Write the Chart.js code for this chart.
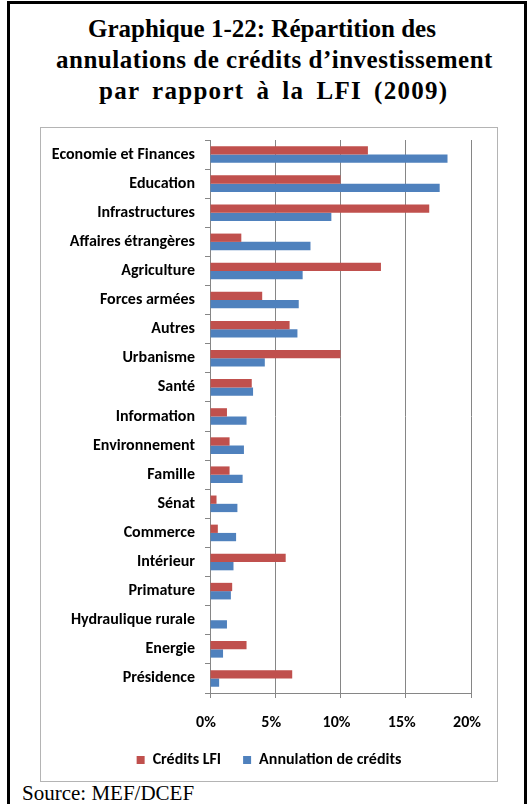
<!DOCTYPE html>
<html lang="fr">
<head>
<meta charset="utf-8">
<title>Graphique 1-22</title>
<script src="https://cdn.jsdelivr.net/npm/chart.js@4.4.1/dist/chart.umd.min.js"></script>
<style>
  html, body { margin: 0; padding: 0; background: #fff; }
  body { width: 527px; height: 804px; position: relative; overflow: hidden; }
  .frame {
    position: absolute; left: 7px; top: 1px; width: 520px; height: 830px;
    box-sizing: border-box; border: 3px solid #000; border-bottom: none;
  }
  .title-line {
    position: absolute; white-space: nowrap;
    font-family: "Liberation Serif", "Times New Roman", serif; font-weight: bold;
    font-size: 25px; line-height: 31px; color: #000;
  }
  .l1 { left: 88px; top: 13px; }
  .l2 { left: 56px; top: 44px; letter-spacing: 0.5px; }
  .l3 { left: 99px; top: 75px; letter-spacing: 1.3px; word-spacing: 4.5px; }
  .chart-box {
    position: absolute; left: 40px; top: 127px; width: 456px; height: 653px;
    border: 1px solid #b4b4b4;
  }
  .chart-box canvas { display: block; }
  .source {
    position: absolute; left: 22px; top: 781px;
    font-family: "Liberation Serif", "Times New Roman", serif;
    font-size: 21px; line-height: 24px; color: #000;
  }
</style>
</head>
<body>
<div class="frame"></div>
<div class="title-line l1">Graphique 1-22: Répartition des</div>
<div class="title-line l2">annulations de crédits d’investissement</div>
<div class="title-line l3">par rapport à la LFI (2009)</div>
<div class="chart-box"><canvas id="chart" width="456" height="653"></canvas></div>
<div class="source">Source: MEF/DCEF</div>
<script>
// Ministères / secteurs, du haut vers le bas
const categories = [
  "Economie et Finances", "Education", "Infrastructures", "Affaires étrangères",
  "Agriculture", "Forces armées", "Autres", "Urbanisme", "Santé", "Information",
  "Environnement", "Famille", "Sénat", "Commerce", "Intérieur", "Primature",
  "Hydraulique rurale", "Energie", "Présidence"
];

// Part dans les crédits LFI (%)
const creditsLFI = [
  12.1, 10.0, 16.8, 2.4, 13.1, 4.0, 6.1, 10.0, 3.2, 1.3,
  1.5, 1.5, 0.5, 0.6, 5.8, 1.7, 0.0, 2.8, 6.3
];

// Part dans les annulations de crédits (%)
const annulations = [
  18.2, 17.6, 9.3, 7.7, 7.1, 6.8, 6.7, 4.2, 3.3, 2.8,
  2.6, 2.5, 2.1, 2.0, 1.8, 1.6, 1.3, 1.0, 0.7
];

const seriesNames = ["Crédits LFI", "Annulation de crédits"];
const xTicks = [0, 5, 10, 15, 20];

const labelFont = { family: "Carlito, Lato, 'Open Sans', sans-serif", weight: "bold", size: 16 };
const axisGrey = "#868686";

// Centre the legend on the whole box rather than on the area left of the right padding
const legendShift = {
  id: "legendShift",
  afterLayout(chart) {
    if (chart.legend) { chart.legend.left = 26; }
  }
};

new Chart(document.getElementById("chart"), {
  type: "bar",
  data: {
    labels: categories,
    datasets: [
      { label: seriesNames[0], data: creditsLFI, backgroundColor: "#C0504D",
        categoryPercentage: 0.57, barPercentage: 1.0 },
      { label: seriesNames[1], data: annulations, backgroundColor: "#4F81BD",
        categoryPercentage: 0.57, barPercentage: 1.0 }
    ]
  },
  plugins: [legendShift],
  options: {
    indexAxis: "y",
    responsive: false,
    animation: false,
    layout: { padding: { left: 0, right: 26, top: 12, bottom: 3 } },
    plugins: {
      title: { display: false },
      tooltip: { enabled: false },
      legend: {
        position: "bottom",
        labels: {
          font: labelFont, color: "#000", boxWidth: 8, boxHeight: 8, padding: 22
        }
      }
    },
    scales: {
      x: {
        min: 0, max: 20,
        afterBuildTicks: (axis) => { axis.ticks = xTicks.map(v => ({ value: v })); },
        afterFit: (axis) => {
          axis.height = 37;
          axis.paddingLeft = 0;
          axis.paddingRight = 0;
        },
        grid: { color: axisGrey, lineWidth: 1, tickLength: 5, drawTicks: true },
        border: { display: true, color: axisGrey },
        ticks: {
          font: labelFont, color: "#000", padding: 15, labelOffset: -4,
          callback: (v) => v + "%"
        }
      },
      y: {
        afterFit: (axis) => {
          axis.width = 169;
          axis.paddingTop = 0;
          axis.paddingBottom = 0;
        },
        grid: { display: true, drawOnChartArea: false, color: axisGrey, tickLength: 5, offset: true },
        border: { display: true, color: axisGrey },
        ticks: { font: labelFont, color: "#000", padding: 10, autoSkip: false }
      }
    }
  }
});
</script>
</body>
</html>
